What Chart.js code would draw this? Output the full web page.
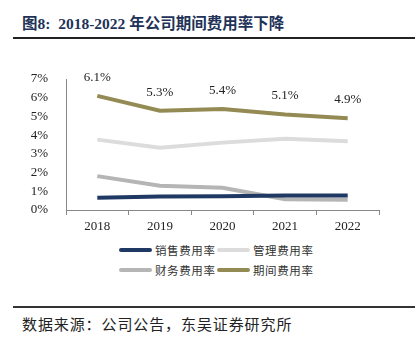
<!DOCTYPE html>
<html>
<head>
<meta charset="utf-8">
<script src="https://cdn.jsdelivr.net/npm/chart.js@4"></script>
<style>
  html, body { margin:0; padding:0; background:#fff; }
  #page { position:relative; width:418px; height:345px; overflow:hidden; background:#fff; }
  #title { position:absolute; left:22px; top:11px; font-family:"Liberation Serif","Noto Sans CJK SC",serif; font-weight:bold; font-size:15.5px; color:#1f3358; white-space:nowrap; }
  .rule { position:absolute; left:13px; width:402px; height:2px; background:#222; }
  #chartBox { position:absolute; left:0; top:40px; width:418px; height:200px; }
  #legend { position:absolute; left:119px; top:240px; width:220px; font-family:"Noto Sans CJK SC",sans-serif; font-size:11.5px; color:#333; }
  .row { display:flex; height:20px; align-items:center; }
  .item { display:flex; align-items:center; width:98px; }
  .sw { width:33px; height:3.5px; border-radius:2px; margin-right:3px; }
  .lbl { letter-spacing:0.6px; }
  #source { position:absolute; left:22px; top:313px; font-family:"Noto Sans CJK SC",sans-serif; font-size:15px; letter-spacing:0.9px; color:#222; white-space:nowrap; }
</style>
</head>
<body>
<div id="page">
  <div id="title">图8:&nbsp; 2018-2022 年公司期间费用率下降</div>
  <div class="rule" style="top:37px"></div>
  <div id="chartBox"><canvas id="chart"></canvas></div>
  <div id="legend"></div>
  <div class="rule" style="top:306px;background:#333"></div>
  <div id="source">数据来源：公司公告，东吴证券研究所</div>
</div>
<script>
// data (percent)
const years = ['2018', '2019', '2020', '2021', '2022'];
const sellRate = [0.66, 0.72, 0.74, 0.78, 0.78];
const adminRate = [3.76, 3.33, 3.6, 3.81, 3.67];
const financeRate = [1.81, 1.3, 1.19, 0.57, 0.55];
const periodRate = [6.1, 5.3, 5.4, 5.1, 4.9];
const periodLabels = ['6.1%', '5.3%', '5.4%', '5.1%', '4.9%'];
const yTicks = [0, 1, 2, 3, 4, 5, 6, 7];

const seriesNames = ['销售费用率', '管理费用率', '财务费用率', '期间费用率'];
const seriesColors = ['#1f3864', '#dcdcdc', '#b5b5b5', '#948a54'];
const seriesData = [sellRate, adminRate, financeRate, periodRate];

const serif = '"Liberation Serif", "Times New Roman", serif';

// value labels above the 期间费用率 line
const labelPlugin = {
  id: 'periodLabels',
  afterDatasetsDraw(chart) {
    const ctx = chart.ctx;
    const meta = chart.getDatasetMeta(3);
    ctx.save();
    ctx.font = '13px ' + serif;
    ctx.fillStyle = '#222';
    ctx.textAlign = 'center';
    ctx.textBaseline = 'bottom';
    meta.data.forEach((pt, i) => {
      ctx.fillText(periodLabels[i], pt.x, pt.y - 12);
    });
    ctx.restore();
  }
};

const chart = new Chart(document.getElementById('chart'), {
  type: 'line',
  data: {
    labels: years,
    datasets: seriesData.map((d, i) => ({
      label: seriesNames[i],
      data: d,
      borderColor: seriesColors[i],
      backgroundColor: seriesColors[i],
      borderWidth: 4,
      pointRadius: 0,
      tension: 0,
      borderCapStyle: 'butt'
    }))
  },
  options: {
    responsive: true,
    maintainAspectRatio: false,
    animation: false,
    layout: { padding: { top: 39, right: 39, left: 0, bottom: 0 } },
    plugins: { legend: { display: false }, tooltip: { enabled: false } },
    scales: {
      x: {
        offset: true,
        grid: { display: true, drawOnChartArea: false, drawTicks: true, tickLength: 5, color: '#888', offset: true },
        border: { color: '#888', width: 1 },
        ticks: { font: { family: serif, size: 13 }, color: '#222', padding: 4 },
        afterFit: s => { s.height = 30; }
      },
      y: {
        min: 0, max: 7,
        afterBuildTicks: s => { s.ticks = yTicks.map(v => ({ value: v })); },
        grid: { display: false },
        border: { color: '#888', width: 1 },
        ticks: { font: { family: serif, size: 13 }, color: '#222', padding: 10, callback: v => v + '%' },
        afterFit: s => { s.width = 66; }
      }
    }
  },
  plugins: [labelPlugin]
});

// legend, 2 x 2
const legendEl = document.getElementById('legend');
for (let r = 0; r < 2; r++) {
  const row = document.createElement('div'); row.className = 'row';
  for (let c = 0; c < 2; c++) {
    const i = r * 2 + c;
    const item = document.createElement('div'); item.className = 'item';
    item.innerHTML = `<div class="sw" style="background:${seriesColors[i]}"></div><span class="lbl">${seriesNames[i]}</span>`;
    row.appendChild(item);
  }
  legendEl.appendChild(row);
}
</script>
</body>
</html>
